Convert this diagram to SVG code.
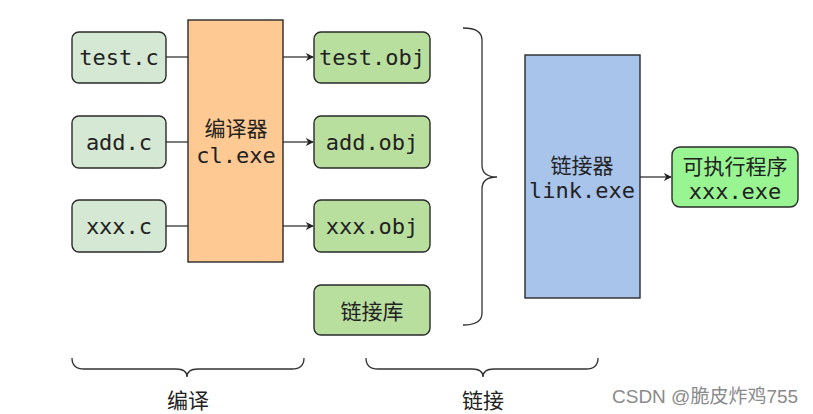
<svg xmlns="http://www.w3.org/2000/svg" width="813" height="414" viewBox="0 0 813 414">
<defs>
<marker id="arr" viewBox="0 0 10 10" refX="9" refY="5" markerWidth="8" markerHeight="8" markerUnits="userSpaceOnUse" orient="auto"><path d="M0,0 L10,5 L0,10 L3,5 Z" fill="#222"/></marker>
<style>
.box{stroke:#2a2a2a;stroke-width:1.4}
.src{fill:#d5e8d4}
.obj{fill:#b9df9f}
.mono{font-family:"DejaVu Sans Mono","Liberation Mono",monospace;font-size:22px;fill:#222;text-anchor:middle;dominant-baseline:central}
.cjk{font-family:"Noto Sans CJK SC","Noto Sans",sans-serif;font-size:21px;fill:#222;text-anchor:middle;dominant-baseline:central}
.conn{stroke:#333;stroke-width:1.3;fill:none}
.brace{stroke:#333;stroke-width:1.3;fill:none}
</style>
</defs>
<rect width="813" height="414" fill="#ffffff"/>
<g id="connectors">
<line class="conn" x1="166" y1="57" x2="188" y2="57"/>
<line class="conn" x1="166" y1="142" x2="188" y2="142"/>
<line class="conn" x1="166" y1="226" x2="188" y2="226"/>
<line class="conn" x1="283" y1="57" x2="313" y2="57" marker-end="url(#arr)"/>
<line class="conn" x1="283" y1="142" x2="313" y2="142" marker-end="url(#arr)"/>
<line class="conn" x1="283" y1="226" x2="313" y2="226" marker-end="url(#arr)"/>
<line class="conn" x1="640" y1="177" x2="671" y2="177" marker-end="url(#arr)"/>
</g>
<g id="test_c"><rect class="box src" x="72" y="32" width="94" height="51" rx="7"/><text class="mono" x="119" y="57">test.c</text></g>
<g id="add_c"><rect class="box src" x="72" y="116" width="94" height="52" rx="7"/><text class="mono" x="119" y="142">add.c</text></g>
<g id="xxx_c"><rect class="box src" x="72" y="200" width="94" height="52" rx="7"/><text class="mono" x="119" y="226">xxx.c</text></g>
<g id="compiler"><rect class="box" x="188" y="20" width="95" height="242" fill="#ffc993"/><text class="cjk" x="236" y="127">编译器</text><text class="mono" x="236" y="155">cl.exe</text></g>
<g id="test_obj"><rect class="box obj" x="314" y="32" width="116" height="51" rx="7"/><text class="mono" x="372" y="57">test.obj</text></g>
<g id="add_obj"><rect class="box obj" x="314" y="116" width="116" height="52" rx="7"/><text class="mono" x="372" y="142">add.obj</text></g>
<g id="xxx_obj"><rect class="box obj" x="314" y="200" width="116" height="52" rx="7"/><text class="mono" x="372" y="226">xxx.obj</text></g>
<g id="lib"><rect class="box obj" x="314" y="285" width="116" height="50" rx="7"/><text class="cjk" x="372" y="310">链接库</text></g>
<g id="linker"><rect class="box" x="525" y="55" width="115" height="243" fill="#a9c4eb"/><text class="cjk" x="582" y="164">链接器</text><text class="mono" x="582" y="190">link.exe</text></g>
<g id="exe"><rect class="box" x="672" y="147" width="126" height="60" rx="8" fill="#98f592"/><text class="cjk" x="735" y="165">可执行程序</text><text class="mono" x="735" y="191">xxx.exe</text></g>
<g id="braces">
<path class="brace" d="M463,28 Q482,28 482,40 L482,165 Q482,177 497,177 Q482,177 482,189 L482,313 Q482,325 463,325"/>
<path class="brace" d="M72,358 Q72,369 84,369 L176,369 Q187,369 187,377 Q187,369 198,369 L292,369 Q304,369 304,358"/>
<path class="brace" d="M366,358 Q366,369 378,369 L472,369 Q483,369 483,377 Q483,369 494,369 L586,369 Q598,369 598,358"/>
</g>
<g id="labels">
<text class="cjk" x="188" y="399" style="font-size:21px">编译</text>
<text class="cjk" x="483" y="399" style="font-size:21px">链接</text>
<text x="612" y="396" font-family="'Liberation Sans','Noto Sans CJK SC',sans-serif" font-size="19" fill="#8a8a8a" dominant-baseline="central">CSDN @脆皮炸鸡755</text>
</g>
</svg>
